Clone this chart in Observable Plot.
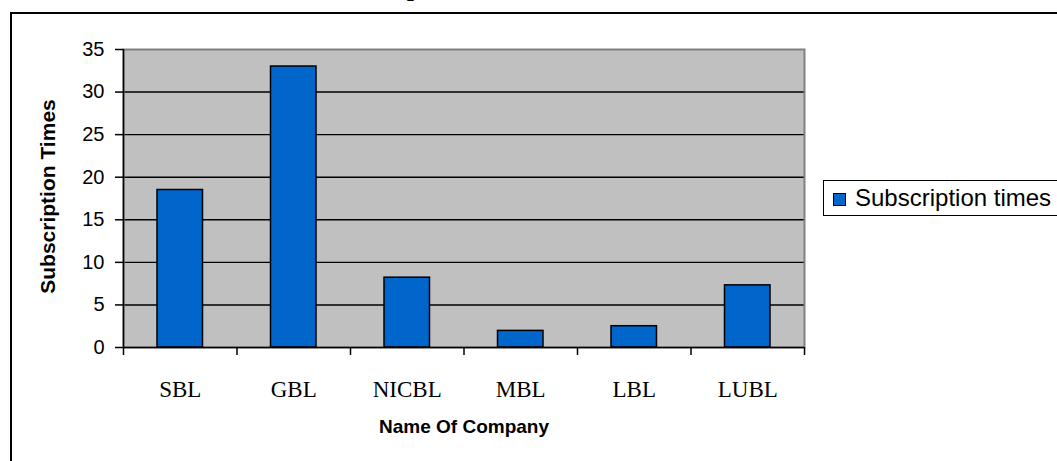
<!DOCTYPE html>
<html>
<head>
<meta charset="utf-8">
<script src="https://cdn.jsdelivr.net/npm/d3@7"></script>
<script src="https://cdn.jsdelivr.net/npm/@observablehq/plot@0.6"></script>
<style>
  html, body { margin: 0; padding: 0; background: #fff; overflow: hidden; }
  #wrap { position: relative; width: 1057px; height: 461px; overflow: hidden; }
  #frame { position: absolute; left: 10px; top: 12px; width: 1200px; height: 600px; border: 2px solid #000; box-sizing: border-box; }
  #title { position: absolute; left: 323px; top: -25px; font: bold 26px/26px "Liberation Serif", "Times New Roman", serif; white-space: nowrap; }
  #chart { position: absolute; left: 0; top: 0; }
  #legend { position: absolute; left: 823px; top: 180px; width: 260px; height: 36px; border: 1.5px solid #000; box-sizing: border-box; background: #fff; }
  #legend .sw { position: absolute; left: 9px; top: 12px; width: 13px; height: 13px; background: #0066CC; border: 1px solid #000; box-sizing: border-box; }
  #legend .lt { position: absolute; left: 31px; top: 2px; font: 24px/30px "Liberation Sans", Arial, sans-serif; white-space: nowrap; color: #000; }
</style>
</head>
<body>
<div id="wrap">
  <div id="frame"></div>
  <div id="title"></div>
  <div id="chart"></div>
  <div id="legend"></div>
</div>
<script>
const chartTitle = "Subscription Times";
const companies = ["SBL", "GBL", "NICBL", "MBL", "LBL", "LUBL"];
const subscriptionTimes = [18.5, 33, 8.2, 1.95, 2.5, 7.3];
const seriesName = "Subscription times";
const yTicks = [0, 5, 10, 15, 20, 25, 30, 35];
const xLabel = "Name Of Company";
const yLabel = "Subscription Times";

const data = companies.map((c, i) => ({company: c, i, value: subscriptionTimes[i]}));
const boundaries = d3.range(companies.length + 1);
const centers = companies.map((c, i) => i + 0.5);

const plot = Plot.plot({
  width: 1057,
  height: 461,
  marginLeft: 123,
  marginRight: 253,
  marginTop: 49,
  marginBottom: 114,
  style: {fontFamily: "Liberation Sans, Arial, sans-serif", color: "#000", background: "transparent", overflow: "visible"},
  x: {type: "linear", domain: [0, companies.length], axis: null},
  y: {domain: [0, 35], axis: null},
  marks: [
    Plot.frame({fill: "#C0C0C0"}),
    Plot.ruleY(yTicks.filter(t => t > 0 && t < 35), {stroke: "#000", strokeWidth: 1.4}),
    Plot.frame({stroke: "#808080", strokeWidth: 2}),
    Plot.rectY(data, {x1: "i", x2: d => d.i + 1, y: "value", insetLeft: 34, insetRight: 34, fill: "#0066CC", stroke: "#000", strokeWidth: 1.5}),
    Plot.ruleX([0], {stroke: "#000", strokeWidth: 1.5}),
    Plot.ruleY([0], {stroke: "#000", strokeWidth: 1.5}),
    Plot.axisY({ticks: yTicks, tickSize: 8, tickPadding: 11, fontSize: 20, label: null, strokeWidth: 1.5}),
    Plot.axisX({ticks: boundaries, tickSize: 8, tickFormat: () => "", label: null, strokeWidth: 1.5}),
    Plot.axisX({ticks: centers, tickSize: 0, tickPadding: 33, tickFormat: v => companies[Math.floor(v)], fontSize: 23, fontFamily: "Liberation Serif, Times New Roman, serif", label: null}),
    Plot.text([xLabel], {text: d => d, frameAnchor: "bottom", dy: 85, fontSize: 19, fontWeight: "bold"}),
    Plot.text([yLabel], {text: d => d, frameAnchor: "left", dx: -75, dy: -2, rotate: -90, textAnchor: "middle", fontSize: 21, fontWeight: "bold"})
  ]
});
document.getElementById("chart").appendChild(plot);
document.getElementById("title").textContent = chartTitle;
const lg = document.getElementById("legend");
lg.innerHTML = '<div class="sw"></div><div class="lt"></div>';
lg.querySelector(".lt").textContent = seriesName;
</script>
</body>
</html>
